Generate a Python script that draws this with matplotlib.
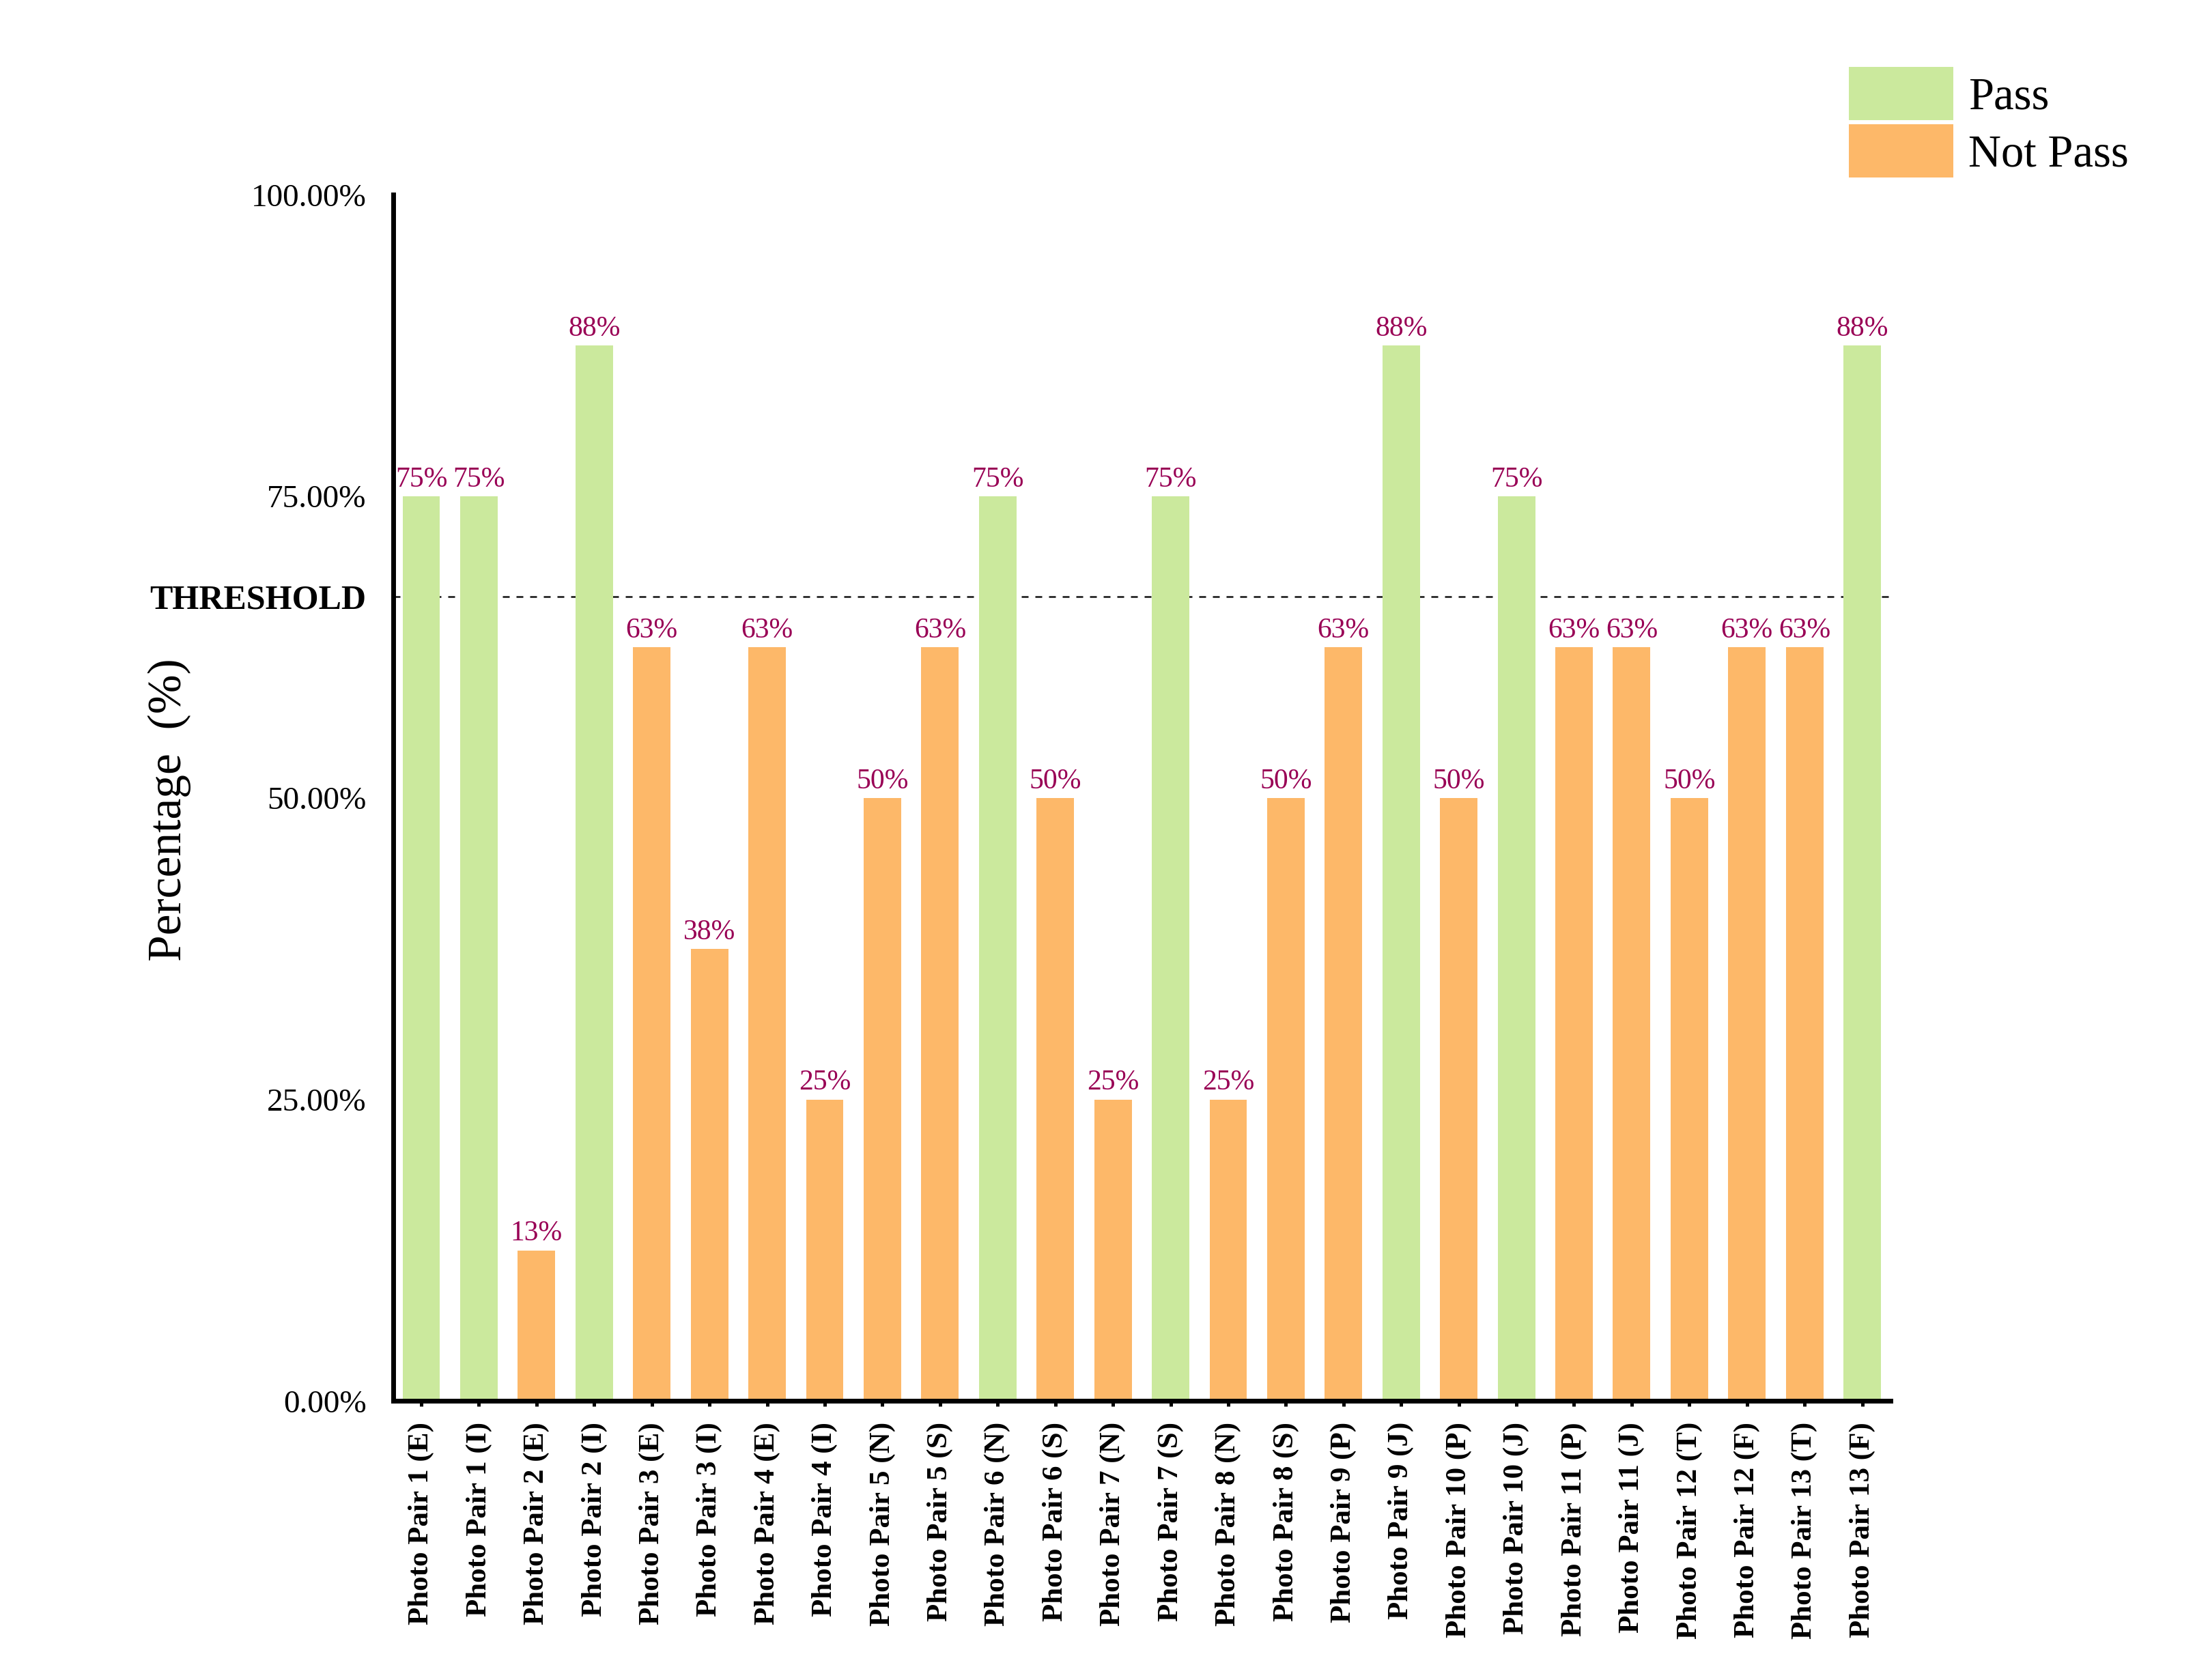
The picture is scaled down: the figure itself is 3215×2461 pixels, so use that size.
import matplotlib
matplotlib.use("Agg")
import matplotlib.pyplot as plt
from matplotlib.patches import Patch

plt.rcParams['font.family'] = ['Liberation Serif', 'DejaVu Serif']

# data
pairs = ["Photo Pair 1 (E)", "Photo Pair 1 (I)", "Photo Pair 2 (E)", "Photo Pair 2 (I)",
         "Photo Pair 3 (E)", "Photo Pair 3 (I)", "Photo Pair 4 (E)", "Photo Pair 4 (I)",
         "Photo Pair 5 (N)", "Photo Pair 5 (S)", "Photo Pair 6 (N)", "Photo Pair 6 (S)",
         "Photo Pair 7 (N)", "Photo Pair 7 (S)", "Photo Pair 8 (N)", "Photo Pair 8 (S)",
         "Photo Pair 9 (P)", "Photo Pair 9 (J)", "Photo Pair 10 (P)", "Photo Pair 10 (J)",
         "Photo Pair 11 (P)", "Photo Pair 11 (J)", "Photo Pair 12 (T)", "Photo Pair 12 (F)",
         "Photo Pair 13 (T)", "Photo Pair 13 (F)"]
values = [75, 75, 12.5, 87.5, 62.5, 37.5, 62.5, 25, 50, 62.5, 75, 50, 25,
          75, 25, 50, 62.5, 87.5, 50, 75, 62.5, 62.5, 50, 62.5, 62.5, 87.5]
bar_labels = ["75%", "75%", "13%", "88%", "63%", "38%", "63%", "25%", "50%", "63%",
              "75%", "50%", "25%", "75%", "25%", "50%", "63%", "88%", "50%", "75%",
              "63%", "63%", "50%", "63%", "63%", "88%"]
threshold = 66.67
ytick_vals = [0, 25, 50, threshold, 75, 100]
ytick_text = ["0.00%", "25.00%", "50.00%", "THRESHOLD", "75.00%", "100.00%"]

GREEN = "#CBE99D"
ORANGE = "#FDB869"

fig = plt.figure(figsize=(16.08, 12.305), dpi=200)
ax = fig.add_axes([0.179, 0.166, 0.682, 0.718])

x = list(range(len(values)))
colors = [GREEN if v >= threshold else ORANGE for v in values]
ax.bar(x, values, width=0.65, color=colors, zorder=2)

for xi, v, lab in zip(x, values, bar_labels):
    ax.text(xi, v + 0.3, lab, ha='center', va='bottom', fontsize=15, color="#990055")

ax.axhline(threshold, color="#111111", linestyle=(0, (4, 4)), linewidth=0.9, zorder=1)

ax.set_xlim(-0.49, len(values) - 0.51)
ax.set_ylim(0, 100)

ax.set_xticks(x)
ax.set_xticklabels(pairs, rotation=90, fontsize=15.5, fontweight='bold')
ax.set_yticks(ytick_vals)
ax.set_yticklabels(ytick_text, fontsize=17)
for t in ax.get_yticklabels():
    if t.get_text() == "THRESHOLD":
        t.set_fontweight('bold')
        t.set_fontsize(18)

ax.tick_params(axis='y', length=0, pad=14)
ax.tick_params(axis='x', length=3, width=1.8, pad=8)

for side in ['top', 'right']:
    ax.spines[side].set_visible(False)
for side in ['left', 'bottom']:
    ax.spines[side].set_linewidth(2.5)

ax.set_ylabel("Percentage  (%)", fontsize=25)
ax.yaxis.set_label_coords(-0.1346, 0.49)

handles = [Patch(facecolor=GREEN, edgecolor='none', label="Pass"),
           Patch(facecolor=ORANGE, edgecolor='none', label="Not Pass")]
fig.legend(handles=handles, loc='upper left', bbox_to_anchor=(0.842, 0.960),
           frameon=False, fontsize=24, handlelength=2.3, handleheight=1.42,
           handletextpad=0.33, labelspacing=0.09, borderpad=0, borderaxespad=0)

fig.savefig("out.png", dpi=200)
